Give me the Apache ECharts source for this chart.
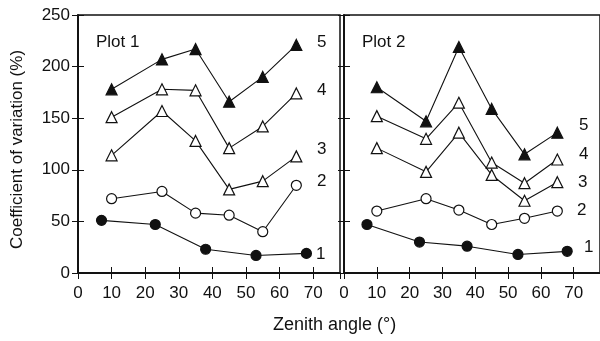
<!DOCTYPE html>
<html>
<head>
<meta charset="utf-8">
<script src="https://cdn.jsdelivr.net/npm/echarts@6/dist/echarts.min.js"></script>
<style>
  html, body { margin: 0; padding: 0; background: #fff; }
  #main { width: 600px; height: 341px; }
</style>
</head>
<body>
<div id="main"></div>
<script>
// zenith angles (deg) for the line series and for series 1 (offset points)
const anglesMain = [10, 25, 35, 45, 55, 65];
const anglesP1S1 = [7, 23, 38, 53, 68];
const anglesP2S1 = [7, 23, 37.5, 53, 68];

// Plot 1 coefficient of variation (%)
const p1s1 = [51, 47, 23, 17, 19];
const p1s2 = [72, 79, 58, 56, 40, 85];
const p1s3 = [114, 157, 128, 81, 89, 113];
const p1s4 = [151, 178, 177, 121, 142, 174];
const p1s5 = [178, 207, 217, 166, 190, 221];

// Plot 2 coefficient of variation (%)
const p2s1 = [47, 30, 26, 18, 21];
const p2s2 = [60, 72, 61, 47, 53, 60];
const p2s3 = [121, 98, 136, 95, 70, 88];
const p2s4 = [152, 130, 165, 107, 87, 110];
const p2s5 = [180, 147, 219, 159, 115, 136];

const xTicks = [0, 10, 20, 30, 40, 50, 60, 70];
const yTicks = [0, 50, 100, 150, 200, 250];

const ink = '#111';
const font = 'Liberation Sans, Arial, sans-serif';

const pair = (xs, ys) => xs.map((x, i) => [x, ys[i]]);

const grids = [
  { left: 78, top: 15, width: 262, height: 258, show: true, borderColor: ink, borderWidth: 1.5, backgroundColor: 'transparent' },
  { left: 344, top: 15, width: 262, height: 258, show: true, borderColor: ink, borderWidth: 1.5, backgroundColor: 'transparent' }
];

const xAxisFor = (gi, pos, labels) => ({
  type: 'value', gridIndex: gi, position: pos, min: 0, max: 78, interval: 10,
  axisLine: { show: true, lineStyle: { color: ink, width: 1.5 } },
  axisTick: { show: true, inside: true, length: 6, lineStyle: { color: ink } },
  axisLabel: {
    show: labels, color: ink, fontSize: 17, fontFamily: font, margin: 12,
    showMaxLabel: false,
    formatter: v => xTicks.includes(v) ? String(v) : ''
  },
  splitLine: { show: false }
});

const yAxisFor = (gi, pos, labels) => ({
  type: 'value', gridIndex: gi, position: pos, min: 0, max: 250, interval: 50,
  axisLine: { show: true, lineStyle: { color: ink, width: 1.5 } },
  axisTick: { show: true, inside: true, length: 6, lineStyle: { color: ink } },
  axisLabel: {
    show: labels, color: ink, fontSize: 17, fontFamily: font, margin: 8,
    formatter: v => yTicks.includes(v) ? String(v) : ''
  },
  splitLine: { show: false }
});

const mk = (xi, data, symbol, filled) => ({
  type: 'line', xAxisIndex: xi, yAxisIndex: xi, data: data,
  symbol: symbol, symbolSize: symbol === 'circle' ? 10 : 11,
  showSymbol: true, animation: false, z: 3,
  lineStyle: { color: ink, width: 1.1 },
  itemStyle: { color: filled ? ink : '#fff', borderColor: ink, borderWidth: 1.2 }
});

const txt = (x, y, s, size) => ({
  type: 'text', left: x, top: y,
  style: { text: s, fill: ink, font: (size || 17) + 'px ' + font }
});

const chart = echarts.init(document.getElementById('main'));
chart.setOption({
  animation: false,
  grid: grids,
  xAxis: [
    xAxisFor(0, 'bottom', true), xAxisFor(1, 'bottom', true),
    xAxisFor(0, 'top', false), xAxisFor(1, 'top', false)
  ],
  yAxis: [
    yAxisFor(0, 'left', true), yAxisFor(1, 'left', false),
    yAxisFor(0, 'right', false), yAxisFor(1, 'right', false)
  ],
  series: [
    mk(0, pair(anglesP1S1, p1s1), 'circle', true),
    mk(0, pair(anglesMain, p1s2), 'circle', false),
    mk(0, pair(anglesMain, p1s3), 'triangle', false),
    mk(0, pair(anglesMain, p1s4), 'triangle', false),
    mk(0, pair(anglesMain, p1s5), 'triangle', true),
    mk(1, pair(anglesP2S1, p2s1), 'circle', true),
    mk(1, pair(anglesMain, p2s2), 'circle', false),
    mk(1, pair(anglesMain, p2s3), 'triangle', false),
    mk(1, pair(anglesMain, p2s4), 'triangle', false),
    mk(1, pair(anglesMain, p2s5), 'triangle', true)
  ],
  graphic: [
    txt(96, 34, 'Plot 1'),
    txt(362, 34, 'Plot 2'),
    txt(317, 34, '5'), txt(317, 82, '4'), txt(317, 141, '3'), txt(317, 173, '2'), txt(316, 246, '1'),
    txt(579, 117, '5'), txt(579, 146, '4'), txt(578, 174, '3'), txt(577, 202, '2'), txt(584, 239, '1'),
    txt(273, 316, 'Zenith angle (\u00b0)', 18),
    {
      type: 'text', x: 9, y: 249, rotation: Math.PI / 2,
      style: { text: 'Coefficient of variation (%)', fill: ink, font: '17px ' + font }
    }
  ]
});
</script>
</body>
</html>
